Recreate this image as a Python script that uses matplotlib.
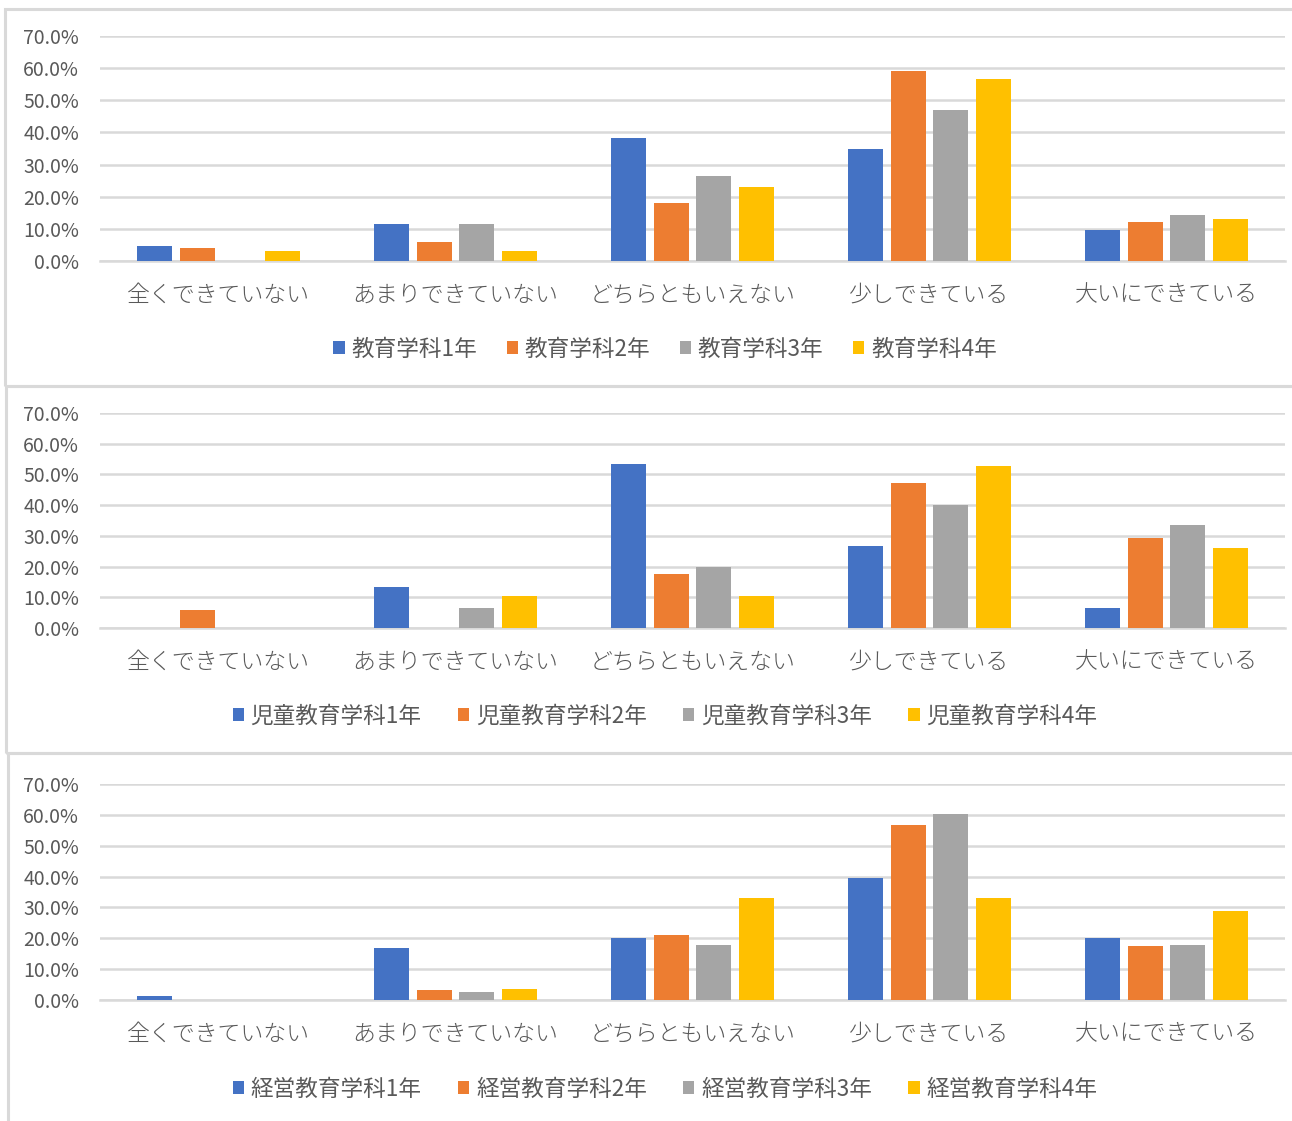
import matplotlib
matplotlib.use("Agg")
import matplotlib.pyplot as plt
from matplotlib.patches import Rectangle, Patch
import numpy as np

plt.rcParams['font.family'] = ['Noto Sans CJK JP', 'DejaVu Sans']

categories = ["全くできていない", "あまりできていない", "どちらともいえない", "少しできている", "大いにできている"]

edu_series = ["教育学科1年", "教育学科2年", "教育学科3年", "教育学科4年"]
edu_y1 = [4.6, 11.5, 38.4, 35.0, 9.8]
edu_y2 = [3.9, 5.8, 18.1, 59.0, 12.2]
edu_y3 = [0.0, 11.4, 26.4, 47.0, 14.4]
edu_y4 = [3.1, 3.1, 22.9, 56.7, 13.2]

child_series = ["児童教育学科1年", "児童教育学科2年", "児童教育学科3年", "児童教育学科4年"]
child_y1 = [0.0, 13.2, 53.4, 26.6, 6.5]
child_y2 = [5.8, 0.0, 17.6, 47.2, 29.4]
child_y3 = [0.0, 6.5, 19.9, 40.0, 33.4]
child_y4 = [0.0, 10.4, 10.4, 52.6, 26.1]

mgmt_series = ["経営教育学科1年", "経営教育学科2年", "経営教育学科3年", "経営教育学科4年"]
mgmt_y1 = [1.2, 16.7, 20.2, 39.4, 20.2]
mgmt_y2 = [0.0, 3.2, 21.0, 56.7, 17.6]
mgmt_y3 = [0.0, 2.5, 17.9, 60.2, 17.9]
mgmt_y4 = [0.0, 3.6, 33.1, 33.1, 28.8]

yticks = [0, 10, 20, 30, 40, 50, 60, 70]
colors = ["#4472C4", "#ED7D31", "#A5A5A5", "#FFC000"]
text_color = "#595959"
grid_color = "#D9D9D9"

W, H = 1292, 1121
fig = plt.figure(figsize=(W / 100, H / 100), dpi=100)

panels = [
    dict(series=edu_series, data=[edu_y1, edu_y2, edu_y3, edu_y4],
         top=36, bottom=261, legend_y=349, box=(5, 9, 386), colspace=1.3),
    dict(series=child_series, data=[child_y1, child_y2, child_y3, child_y4],
         top=413, bottom=628, legend_y=716, box=(6, 386, 753), colspace=1.6),
    dict(series=mgmt_series, data=[mgmt_y1, mgmt_y2, mgmt_y3, mgmt_y4],
         top=784, bottom=1000, legend_y=1089, box=(8, 753, 1130), colspace=1.6),
]

x_left, x_right = 100, 1285
x = np.arange(len(categories))
step = 0.181
width = 0.148

for p in panels:
    bx, btop, bbot = p["box"]
    fig.add_artist(Rectangle((bx / W, 1 - bbot / H), (1400 - bx) / W, (bbot - btop) / H,
                             transform=fig.transFigure, fill=False,
                             edgecolor=grid_color, linewidth=2.2, zorder=0))
    ax = fig.add_axes([x_left / W, 1 - p["bottom"] / H,
                       (x_right - x_left) / W, (p["bottom"] - p["top"]) / H])
    handles = []
    for i, (name, vals) in enumerate(zip(p["series"], p["data"])):
        ax.bar(x + (i - 1.5) * step, vals, width=width, color=colors[i], zorder=3)
        handles.append(Patch(facecolor=colors[i], label=name))
    ax.set_xlim(-0.5, len(categories) - 0.5)
    ax.set_ylim(0, 70)
    ax.set_yticks(yticks)
    ax.set_yticklabels([f"{v:.1f}%" for v in yticks])
    ax.set_xticks(x)
    ax.set_xticklabels(categories, fontweight="light")
    ax.grid(axis="y", color=grid_color, linewidth=1.8, zorder=0)
    ax.set_axisbelow(True)
    for s in ["top", "right", "left"]:
        ax.spines[s].set_visible(False)
    ax.spines["bottom"].set_color(grid_color)
    ax.spines["bottom"].set_linewidth(1.8)
    ax.tick_params(axis="both", length=0, colors=text_color)
    ax.tick_params(axis="y", labelsize=14, pad=15)
    ax.tick_params(axis="x", labelsize=16.5, pad=15.5)
    fig.legend(handles=handles, loc="center", ncol=4,
               bbox_to_anchor=(665 / W, 1 - p["legend_y"] / H),
               frameon=False, fontsize=16.3, labelcolor=text_color,
               handlelength=0.5, handleheight=0.5, handletextpad=0.3,
               columnspacing=p["colspace"])

fig.savefig("out.png", dpi=100, facecolor="white")
